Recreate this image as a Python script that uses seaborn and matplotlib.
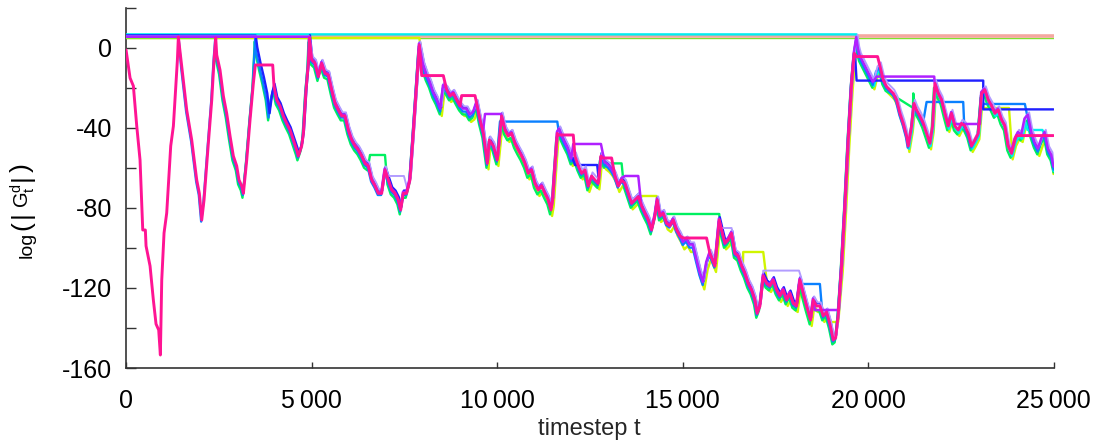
import numpy as np
import pandas as pd
import matplotlib
matplotlib.use("Agg")
import matplotlib.pyplot as plt
from matplotlib.ticker import MultipleLocator, FixedLocator, FixedFormatter
import seaborn as sns

# Shared trajectory of log|G_t^d| (timestep, value)
base_t = [0, 108, 197, 288, 377, 450, 520, 539, 647, 736, 808, 880, 925, 962, 1024, 1096, 1204, 1276, 1384,
          1410, 1500, 1635, 1770, 1905, 1976, 2040, 2102, 2218, 2310, 2372,
          2417, 2444, 2533, 2623, 2713, 2803, 2892, 2983, 3045, 3118, 3163, 3253, 3342, 3431,
          3495, 3522, 3611, 3701, 3791, 3854, 3926, 3988, 4061, 4150, 4240, 4330, 4420, 4509, 4600, 4644,
          4734, 4780, 4851, 4914,
          4941, 5004, 5094, 5184, 5274, 5363, 5453, 5543, 5633, 5723, 5812, 5902, 5992, 6082, 6172, 6261,
          6351, 6441, 6531, 6621, 6711, 6801, 6890, 6980, 7070, 7160, 7250, 7339, 7403, 7473, 7563, 7653,
          7743, 7833,
          7905, 8013, 8103, 8193, 8283, 8373, 8481, 8552, 8643, 8732, 8822, 8912, 9002, 9091, 9181, 9271,
          9361, 9451, 9541, 9631, 9739, 9793, 9900, 10007, 10079, 10124, 10214, 10303, 10393, 10483, 10573,
          10663, 10753, 10842, 10932, 11022, 11112, 11202, 11292, 11381, 11454, 11499, 11561, 11624, 11678,
          11741, 11831, 11920, 12010, 12100, 12190, 12280, 12370, 12460, 12549, 12639, 12729, 12801, 12909,
          12998, 13088, 13178, 13268, 13358, 13448, 13537, 13627, 13717, 13807, 13897, 13987, 14077, 14166,
          14256, 14318, 14391, 14480, 14570, 14660, 14750, 14840, 14930, 15020, 15109, 15199, 15289, 15379,
          15469, 15558, 15648, 15738, 15873, 15990, 16053, 16143, 16232, 16322, 16412, 16502, 16592, 16681,
          16771, 16861, 16951, 17013, 17087, 17176, 17266, 17356, 17446, 17535, 17625, 17715, 17805, 17895,
          17985, 18075, 18164, 18254, 18344, 18452, 18524, 18613, 18703, 18793, 18883, 18973, 19063, 19127,
          19198, 19288, 19378, 19467, 19557, 19629,
          19692, 19737, 19782, 19872, 19962, 20052, 20142, 20231, 20321, 20411, 20501, 20591, 20681, 20770,
          20860, 20950, 21040, 21085, 21175, 21237, 21309, 21399, 21489, 21579, 21668, 21740, 21803, 21893,
          21983, 22072, 22162, 22252, 22342, 22432, 22522, 22611, 22701, 22791, 22881, 22971, 23061, 23150,
          23240, 23330, 23420, 23510, 23600, 23689, 23779, 23869, 23959, 24049, 24139, 24228, 24318, 24408,
          24498, 24588, 24678, 24767, 24857, 24947, 25000]
base_g = [-1, -15, -19, -39, -56, -91, -91, -99, -109, -126, -138, -141, -153.5, -116, -92.5, -82.5, -49, -39, -6,
          5.5, -9, -31, -46, -66, -72.7, -86, -76, -47.7, -26, -6,
          5, -3.5, -11, -24, -32.7, -44, -54, -59, -66, -69, -72.7, -56, -36, -17.7,
          5.5, -1, -9, -16, -24, -34, -24, -19.3, -26, -29, -34, -37.7, -41, -46, -51, -54,
          -49, -42.7, -21, -7.7,
          5, -6, -7.7, -14.3, -7.7, -12.7, -13.5, -21, -27.7, -31, -34, -34, -41, -46, -49, -51,
          -54, -57.7, -59, -66, -69, -72.7, -72.7, -61, -66, -71, -72.7, -76, -81, -72.7, -72.7, -66,
          -42.7, -17.7,
          1.5, -9, -14, -17.7, -22.7, -26, -31, -19.3, -21, -24, -22.7, -26, -29, -31, -31, -34,
          -32.7, -27.7, -36, -42.7, -57.7, -46, -49, -56, -42.7, -34, -41, -44, -42.7, -47.7, -51,
          -54, -57.7, -62.7, -61, -67.7, -71, -69, -72.7, -76, -81, -76, -59, -42.7, -41,
          -44, -47.7, -51, -56, -54, -59, -62.7, -61, -69, -64, -66, -67.7, -54, -57.7,
          -59, -61, -64, -69, -66, -67.7, -72.7, -77.7, -76, -74.3, -79, -82.7, -86, -91,
          -84, -76, -84, -82.7, -87.7, -89, -86, -91, -94, -97.7, -96, -99, -99, -106,
          -112.7, -117.7, -107.7, -102.7, -109, -86, -91, -97.7, -96, -92.7, -102.7, -104, -109, -112.7,
          -117.7, -121, -126, -132.7, -129, -114, -117.7, -119, -116, -121, -124, -121, -126, -122.7,
          -127.7, -129, -116, -122.7, -129, -136, -126, -129, -129, -134, -132, -138, -146, -145,
          -133, -109, -79, -46, -17.7, -2.7,
          4.8, -1, -4.3, -7.7, -11, -14.3, -17.7, -11, -9, -16, -19.3, -21, -22.7, -26,
          -32.7, -37.7, -44, -49, -39, -27.7, -31, -34, -37.7, -42.7, -47.7, -39, -17.7, -22.7,
          -26, -32.7, -39, -32.7, -39, -41, -37.7, -39, -42.7, -49, -46, -42.7, -22.7, -21,
          -26, -29, -32.7, -31, -36, -39, -49, -52.7, -46, -42.7, -44, -36, -34, -42.7,
          -47.7, -51, -46, -42.7, -51, -54, -60]

# Individual runs: colour, time it leaves the initial level, initial level,
# vertical separation from the shared path, small time lag, and stretches
# where the run is held constant
run_names = ["lime", "green", "cyan", "azure", "blue", "lavender", "violet", "magenta"]
run_colors = ["#d0f500", "#00f060", "#00eef0", "#0a80ff", "#2020ff", "#b29cff", "#b020ff", "#ff1493"]
run_start = [7905, 2417, 19692, 1410, 3495, 4941, 4941, 0]
run_plateau = [5.0, 5.4, 6.8, 6.4, 6.2, 5.8, 5.6, 5.0]
run_shift = [-3.0, -2.2, -1.4, -0.8, 1.4, 1.8, 0.7, 0.0]
run_lag = [30, -25, 20, -15, 15, 25, -10, 0]
run_holds = [
    [(13897, 14300, -74), (16636, 17176, -102), (18973, 19198, -137), (23106, 23800, -30)],
    [(6576, 6980, -53.5), (12953, 13358, -57.7), (14570, 15990, -83), (20591, 21220, -22.7)],
    [(24300, 24700, -41)],
    [(10079, 11624, -36.8), (18210, 18703, -118), (21579, 22566, -27), (23106, 24228, -28)],
    [(12100, 12700, -58.5), (19692, 23106, -16.3), (23106, 25000, -30.7)],
    [(7070, 7490, -64), (15962, 16322, -90), (17176, 18140, -111.3)],
    [(9676, 10106, -33), (12055, 12801, -48), (13448, 13807, -64), (18568, 19198, -131),
     (20231, 21785, -14.3), (22388, 23016, -38)],
    [(3485, 3953, -8.5), (7970, 8552, -13.8), (9047, 9406, -23.8), (11651, 12055, -43.5),
     (12819, 13088, -55), (15020, 15648, -95), (19692, 20258, -4.3), (24004, 25000, -43.8)],
]
run_width = [1.7, 1.7, 1.7, 1.7, 1.7, 1.4, 1.8, 2.1]

# Runs that never leave the top level
flat_t = [0, 25000]
ref_salmon = [6.0, 6.0]
ref_green = [5.0, 5.0]


def build_run(start, plateau, shift, lag, holds):
    pts = []
    if start > 0:
        pts.append((0, plateau, 0))
        pts.append((start, plateau, 0))
    for t, g in zip(base_t, base_g):
        if t < start or (start > 0 and t == start):
            continue
        if any(t0 <= t <= t1 for t0, t1, _ in holds):
            continue
        tt = min(max(t + lag, start), 25000) if 0 < t < 25000 else t
        pts.append((tt, g + shift, 1))
    for t0, t1, lv in holds:
        pts.append((t0, lv, 2))
        pts.append((t1, lv, 0))
    pts.sort(key=lambda p: (p[0], p[2]))
    return pd.DataFrame({"t": [p[0] for p in pts], "g": [p[1] for p in pts]})


sns.set_theme(style="ticks")
plt.rcParams["font.family"] = ["Liberation Sans", "DejaVu Sans"]
plt.rcParams["axes.unicode_minus"] = False
plt.rcParams["mathtext.fontset"] = "custom"
plt.rcParams["mathtext.rm"] = "Liberation Sans"
plt.rcParams["mathtext.it"] = "Liberation Sans"
plt.rcParams["mathtext.default"] = "regular"

W, H = 1099, 443
fig = plt.figure(figsize=(W / 100, H / 100), dpi=100)
ax = fig.add_axes([0.1147, 0.1693, 0.8439, 0.8127])

flat = pd.DataFrame({"t": flat_t, "salmon": ref_salmon, "green": ref_green})
sns.lineplot(data=flat, x="t", y="green", color="#7ee030", linewidth=1.0, ax=ax, zorder=2)
sns.lineplot(data=flat, x="t", y="salmon", color="#f4a8a0", linewidth=2.6, ax=ax, zorder=2.5)

for i, name in enumerate(run_names):
    df = build_run(run_start[i], run_plateau[i], run_shift[i], run_lag[i], run_holds[i])
    sns.lineplot(data=df, x="t", y="g", color=run_colors[i], linewidth=run_width[i],
                 estimator=None, sort=False, ax=ax, zorder=3 + i)

ax.set_xlim(0, 25000)
ax.set_ylim(-160, 20)
xt = [0, 5000, 10000, 15000, 20000, 25000]
ax.xaxis.set_major_locator(FixedLocator(xt))
ax.xaxis.set_major_formatter(FixedFormatter(["0", "5\u2009000", "10\u2009000", "15\u2009000",
                                             "20\u2009000", "25\u2009000"]))
ax.yaxis.set_major_locator(MultipleLocator(40))
ax.yaxis.set_minor_locator(MultipleLocator(20))
ax.tick_params(axis="both", which="both", direction="in", colors="#333333", labelcolor="black",
               labelsize=18, width=1.0)
ax.tick_params(axis="y", which="both", length=7, pad=10)
ax.tick_params(axis="x", which="major", length=4, pad=15)
ax.tick_params(axis="x", which="minor", length=0)

sns.despine(ax=ax)
for s in ("left", "bottom"):
    ax.spines[s].set_color("#333333")
    ax.spines[s].set_linewidth(1.2)

ax.set_xlabel("timestep t", fontsize=17)
ax.xaxis.set_label_coords(0.5, -0.138)
ax.set_ylabel("")

# y label log(|G_t^d|) with tall delimiters, laid out piece by piece upwards
renderer = fig.canvas.get_renderer()
ylabel_parts = [("log", 14, 31.5, 1.5),
                ("(", 19, 29.0, 3.0),
                ("|", 19, 29.0, 3.0),
                (r"$\mathrm{G}_{\mathrm{t}}^{\mathrm{d}}$", 14.5, 29.0, 3.0),
                ("|", 19, 29.0, 2.0),
                (")", 19, 29.0, 0.0)]
ypos = 258.0
for text, size, xbase, gap in ylabel_parts:
    piece = fig.text(xbase / W, 1 - ypos / H, text, fontsize=size, rotation=90,
                     rotation_mode="anchor", ha="left", va="baseline", color="black")
    ypos -= piece.get_window_extent(renderer).height + gap

fig.savefig("out.png", dpi=100)
